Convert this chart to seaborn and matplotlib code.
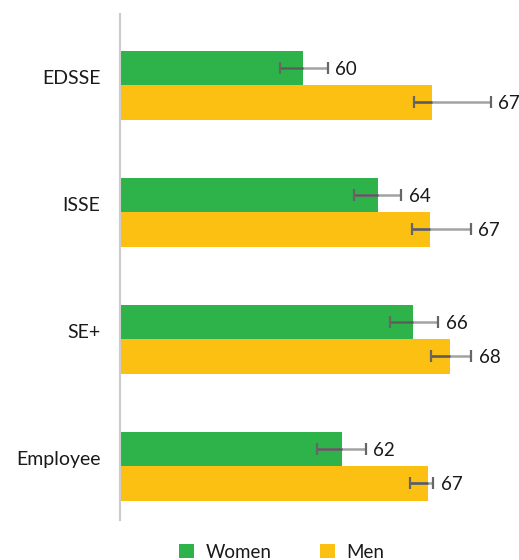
import numpy as np
import pandas as pd
import matplotlib
matplotlib.use("Agg")
import matplotlib.pyplot as plt
from matplotlib.patches import Patch
from matplotlib.transforms import ScaledTranslation
import seaborn as sns

# ---- data ----
categories = ["EDSSE", "ISSE", "SE+", "Employee"]
groups = ["Women", "Men"]
women_vals = [60.0, 64.1, 66.0, 62.1]
men_vals = [67.0, 66.9, 68.0, 66.8]
women_low = [58.73, 62.78, 64.73, 60.76]
women_high = [61.33, 65.33, 67.37, 63.40]
men_low = [66.06, 65.91, 66.95, 65.82]
men_high = [70.22, 69.13, 69.15, 67.09]
women_labels = ["60", "64", "66", "62"]
men_labels = ["67", "67", "68", "67"]

colors = {"Women": "#2eb34b", "Men": "#fcc012"}

df = pd.DataFrame({
    "category": categories * 2,
    "group": ["Women"] * 4 + ["Men"] * 4,
    "value": women_vals + men_vals,
    "low": women_low + men_low,
    "high": women_high + men_high,
    "label": women_labels + men_labels,
})

sns.set_style("white")
plt.rcParams["font.family"] = ["Lato", "DejaVu Sans"]

fig = plt.figure(figsize=(5.19, 5.6), dpi=100)
ax = fig.add_axes([120 / 519, 40 / 560, 399 / 519, 506 / 560])

sns.barplot(data=df, y="category", x="value", hue="group", order=categories,
            hue_order=groups, palette=colors, orient="h", width=0.543,
            saturation=1, errorbar=None, linewidth=0, legend=False, ax=ax)

ax.set_xlim(50, 71.77)
ax.set_ylim(3.425, -0.56)

# error bars and labels, positioned from the drawn bars
bars = [p for p in ax.patches if p.get_height() > 0]
bars_sorted = sorted(bars, key=lambda p: p.get_y())
ordered = (df.assign(ci=[categories.index(c) for c in df.category],
                     gi=[groups.index(g) for g in df.group])
           .sort_values(["ci", "gi"]))
for p, (_, row) in zip(bars_sorted, ordered.iterrows()):
    yc = p.get_y() + p.get_height() / 2
    val = p.get_width()
    ax.hlines(yc, row["low"], row["high"], color="#a3a3a3", lw=1.8, zorder=3)
    ax.hlines(yc, row["low"], min(val, row["high"]), color="#5a5a5a", lw=1.8, zorder=4)
    ax.plot([row["low"], row["high"]], [yc, yc], ls="none", marker="|",
            markersize=9, markeredgewidth=1.6, color="#666666", zorder=5)
    ax.annotate(row["label"], xy=(row["high"], yc), xytext=(5.5, -1),
                textcoords="offset points", ha="left", va="center",
                fontsize=13.5, color="#1a1a1a")

ax.set_xlabel("")
ax.set_ylabel("")
ax.set_xticks([])
ax.tick_params(axis="y", length=0, pad=14, labelsize=14, labelcolor="#1a1a1a")
for s in ["top", "right", "bottom"]:
    ax.spines[s].set_visible(False)
ax.spines["left"].set_color("#cccccc")
ax.spines["left"].set_linewidth(1.5)

handles = [Patch(facecolor=colors[g], edgecolor="none", label=g) for g in groups]
fig.legend(handles=handles, loc="center", bbox_to_anchor=(282 / 519, 8 / 560),
           ncol=2, frameon=False, fontsize=13.5, handlelength=0.8,
           handleheight=0.8, handletextpad=0.6, columnspacing=2.6,
           labelcolor="#1a1a1a")

# category labels sit slightly above the pair centre
shift = ScaledTranslation(0, 8 / 100, fig.dpi_scale_trans)
for tick in ax.yaxis.get_major_ticks():
    tick.label1.set_transform(tick.label1.get_transform() + shift)

fig.savefig("out.png", dpi=100)
